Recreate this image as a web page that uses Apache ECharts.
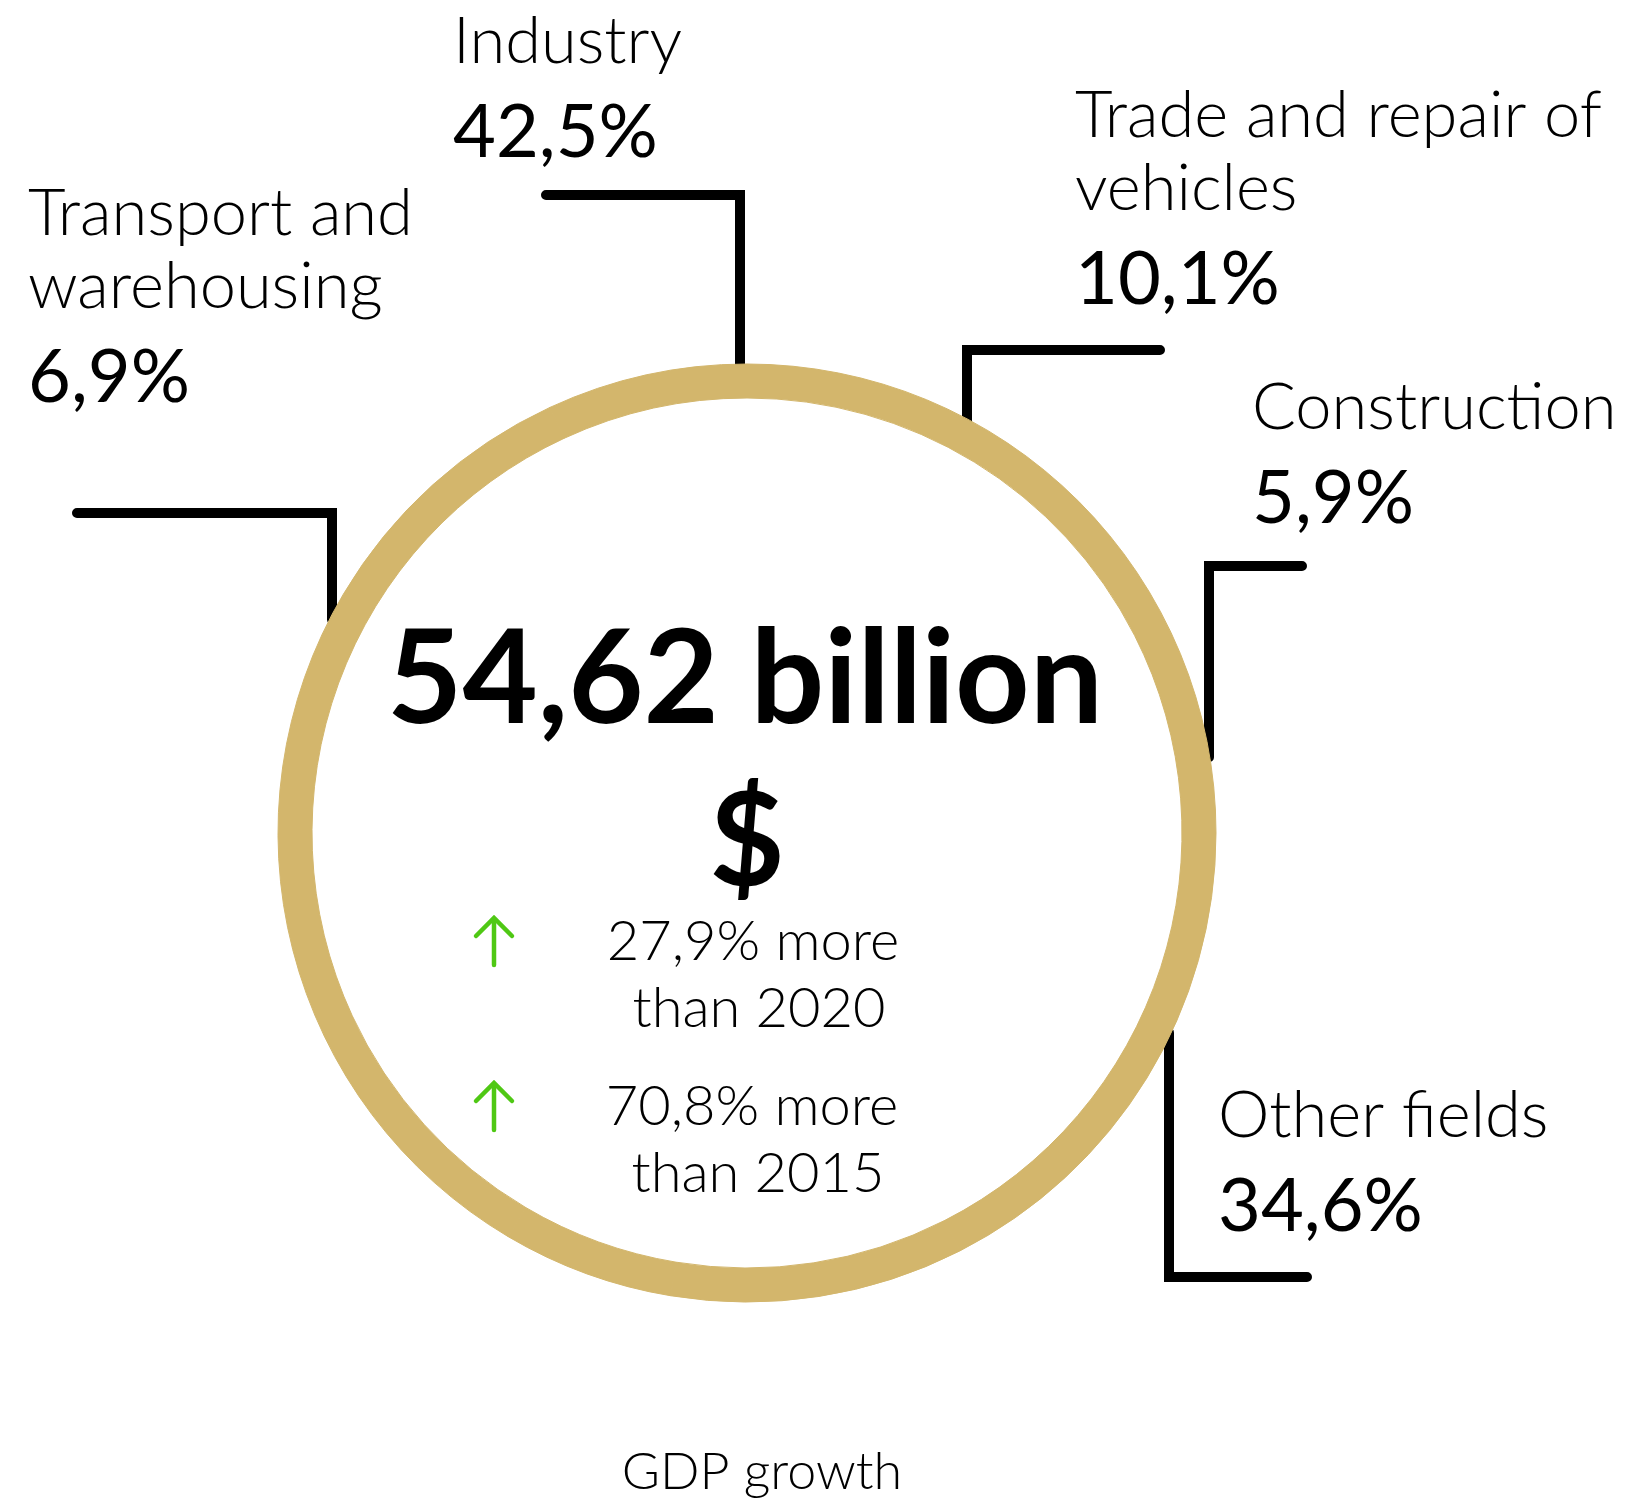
<!DOCTYPE html>
<html>
<head>
<meta charset="utf-8">
<title>GDP growth</title>
<script src="https://cdn.jsdelivr.net/npm/echarts@6/dist/echarts.min.js"></script>
<style>
  html, body { margin: 0; padding: 0; background: #fff; }
  #chart { width: 1641px; height: 1504px; }
</style>
</head>
<body>
<div id="chart"></div>
<script>
// GDP structure by sector, share in %
const sectors = ['Industry', 'Trade and repair of\nvehicles', 'Construction', 'Other fields', 'Transport and\nwarehousing'];
const shares = [42.5, 10.1, 5.9, 34.6, 6.9];

// total and growth
const totalValue = '54,62';
const totalUnit = 'billion';
const currency = '$';
const growthPct = [27.9, 70.8];
const growthYears = [2020, 2015];
const footer = 'GDP growth';

// ring geometry
const cx = 747, cy = 833, rOut = 469, rIn = 435;
const gold = '#d3b66c';
const green = '#4fc814';
const fontName = 'Lato';

// callouts: label top-left x,y / x of the vertical leader / y of the elbow / free end x
const callouts = [
  { lx: 453, ly: 6, vx: 740, ey: 195, endX: 546, side: -1 },
  { lx: 1075, ly: 80, vx: 967, ey: 350, endX: 1160, side: -1 },
  { lx: 1252, ly: 372, vx: 1209, ey: 566, endX: 1302, side: -1 },
  { lx: 1218, ly: 1080, vx: 1169, ey: 1277, endX: 1307, side: 1 },
  { lx: 28, ly: 178, vx: 332, ey: 513, endX: 77, side: -1 }
];

function fmt(v) {
  return String(v).replace('.', ',');
}

// point where a vertical leader meets the outer edge of the ring
function ringY(x, side) {
  const dx = x - cx;
  return cy + side * Math.sqrt(rOut * rOut - dx * dx);
}

const chart = echarts.init(document.getElementById('chart'));

const centerTexts = [
  { text: totalValue + ' ' + totalUnit, x: 745, y: 681, size: 130, weight: 'bold' },
  { text: currency, x: 747, y: 843, size: 130, weight: 'bold' },
  { text: fmt(growthPct[0]) + '% more', x: 753, y: 942, size: 56, weight: 300 },
  { text: 'than ' + growthYears[0], x: 759, y: 1009, size: 56, weight: 300 },
  { text: fmt(growthPct[1]) + '% more', x: 752, y: 1107, size: 56, weight: 300 },
  { text: 'than ' + growthYears[1], x: 758, y: 1174, size: 56, weight: 300 },
  { text: footer, x: 762, y: 1472, size: 52, weight: 300 }
];

const graphics = centerTexts.map(function (t) {
  return {
    type: 'text',
    x: t.x,
    y: t.y,
    silent: true,
    style: {
      text: t.text,
      fill: '#000',
      font: t.weight + ' ' + t.size + 'px ' + fontName,
      align: 'center',
      verticalAlign: 'middle'
    }
  };
});
// green up arrows next to the growth lines
[917, 1082].forEach(function (top) {
  graphics.push({
    type: 'group',
    x: 494,
    y: top,
    silent: true,
    children: [
      { type: 'line', shape: { x1: 0, y1: 2, x2: 0, y2: 48 }, style: { stroke: green, lineWidth: 4.5, lineCap: 'round' } },
      { type: 'polyline', shape: { points: [[-18, 19], [0, 1], [18, 19]] }, style: { stroke: green, lineWidth: 4.5, lineCap: 'round', lineJoin: 'miter', fill: null } }
    ]
  });
});

const option = {
  backgroundColor: '#fff',
  animation: false,
  graphic: graphics,
  series: [
    {
      type: 'pie',
      center: [cx, cy],
      radius: [rIn, rOut],
      startAngle: 90,
      silent: true,
      avoidLabelOverlap: false,
      emphasis: { disabled: true },
      itemStyle: { color: gold, borderColor: gold, borderWidth: 1 },
      label: {
        show: true,
        position: 'outside',
        formatter: function (p) {
          return '{n|' + p.name + '}\n{p|' + fmt(p.value) + '%}';
        },
        rich: {
          n: { fontFamily: fontName, fontWeight: 300, fontSize: 65, lineHeight: 73, color: '#000' },
          p: { fontFamily: fontName, fontWeight: 400, fontSize: 74, lineHeight: 108, color: '#000' }
        }
      },
      labelLine: {
        show: true,
        smooth: false,
        lineStyle: { color: '#000', width: 10, cap: 'round', join: 'miter' }
      },
      labelLayout: function (params) {
        const c = callouts[params.dataIndex];
        const yr = ringY(c.vx, c.side) - c.side * 5;
        return {
          x: c.lx,
          y: c.ly,
          align: 'left',
          verticalAlign: 'top',
          labelLinePoints: [[c.vx, yr], [c.vx, c.ey], [c.endX, c.ey]]
        };
      },
      data: sectors.map(function (name, i) {
        return { name: name, value: shares[i] };
      })
    }
  ]
};

chart.setOption(option);
window.addEventListener('resize', function () {
  chart.resize();
});
</script>
</body>
</html>
